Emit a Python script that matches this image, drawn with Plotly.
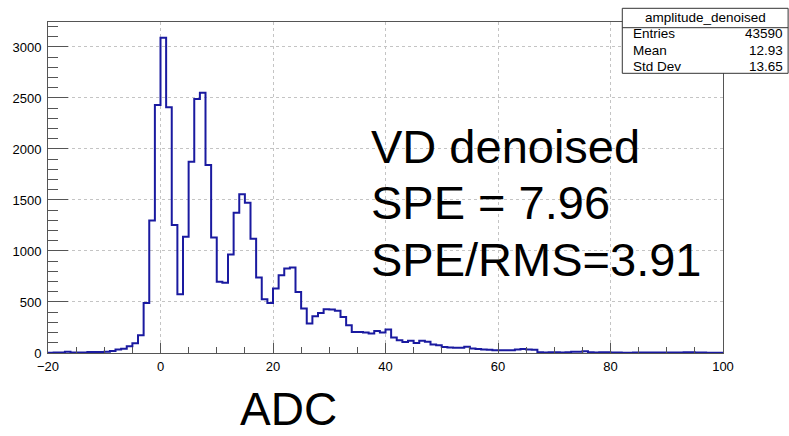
import plotly.graph_objects as go

# ---- data (bin low edges, bin width 1 ADC) ----
bin_low = list(range(-20, 100))
counts = [
    3, 5, 5, 12, 5, 4, 5, 10, 10, 10,          # -20 .. -11
    12, 20, 35, 42, 66, 95, 175, 490, 1300, 2430,  # -10 .. -1
    3090, 2410, 1254, 576, 1140, 1875, 2489, 2550, 1844, 1133,  # 0 .. 9
    698, 688, 966, 1375, 1557, 1472, 1120, 740, 527, 491,  # 10 .. 19
    632, 763, 829, 839, 599, 436, 289, 360, 393, 429,  # 20 .. 29
    426, 413, 354, 272, 207, 207, 200, 190, 216, 200,  # 30 .. 39
    230, 151, 125, 108, 120, 98, 120, 110, 83, 75,  # 40 .. 49
    59, 55, 52, 52, 62, 45, 40, 35, 33, 28,  # 50 .. 59
    26, 26, 28, 35, 38, 35, 32, 8, 6, 8,  # 60 .. 69
    7, 6, 8, 12, 12, 16, 8, 6, 8, 7,  # 70 .. 79
    6, 6, 2, 2, 6, 6, 6, 6, 6, 6,  # 80 .. 89
    5, 5, 4, 8, 8, 6, 6, 2, 2, 2,  # 90 .. 99
]
bin_width = 1

hist_name = "amplitude_denoised"
stat_labels = ["Entries", "Mean", "Std Dev"]
stat_values = ["43590", "12.93", "13.65"]
text_lines = ["VD denoised", "SPE = 7.96", "SPE/RMS=3.91"]
x_title = "ADC"

# ---- figure ----
W, H = 789, 436
L, R, T, B = 44, 66, 22, 83
pw, ph = W - L - R, H - T - B

def px(xp):
    return (xp - L) / pw

def py(yp):
    return (H - B - yp) / ph

step_x = bin_low + [bin_low[-1] + bin_width]
step_y = counts + [counts[-1]]

FONT = "Liberation Sans, Arial, Helvetica, sans-serif"
LINE_COL = "#1a1aa0"

fig = go.Figure()
fig.add_trace(go.Scatter(
    x=step_x, y=step_y, mode="lines", line_shape="hv",
    line=dict(color=LINE_COL, width=2), showlegend=False, hoverinfo="skip",
))

ymax = max(counts) * 1.05

axis_common = dict(
    showline=True, linecolor="#555", linewidth=1, mirror=True,
    ticks="inside", tickcolor="#555", tickwidth=1,
    showgrid=True, gridcolor="#c4c4c4", griddash="dot", gridwidth=1,
    zeroline=False,
    tickfont=dict(family=FONT, size=13, color="#000"),
)

fig.update_layout(
    width=W, height=H,
    margin=dict(l=L, r=R, t=T, b=B),
    paper_bgcolor="white", plot_bgcolor="white",
    font=dict(family=FONT, color="#000"),
    xaxis=dict(range=[-20, 100], tick0=0, dtick=20, ticklen=10,
               minor=dict(dtick=5, tick0=0, ticklen=6, ticks="inside",
                          tickcolor="#555", showgrid=False),
               ticklabelstandoff=1,
               **axis_common),
    yaxis=dict(range=[0, ymax], tick0=0, dtick=500, ticklen=20,
               minor=dict(dtick=100, tick0=0, ticklen=10, ticks="inside",
                          tickcolor="#555", showgrid=False),
               ticklabelstandoff=3,
               **axis_common),
)

# ---- stats box ----
bx0, bx1, by0, by1, bsep = 621.7, 789, 8.3, 73.3, 27.7
fig.add_shape(type="rect", xref="paper", yref="paper",
              x0=px(bx0), x1=px(bx1 - 0.5), y0=py(by1), y1=py(by0),
              line=dict(color="#333", width=1), fillcolor="white", layer="above")
fig.add_shape(type="line", xref="paper", yref="paper",
              x0=px(bx0), x1=px(bx1 - 0.5), y0=py(bsep), y1=py(bsep),
              line=dict(color="#333", width=1), layer="above")
fig.add_annotation(x=px((bx0 + bx1) / 2), y=py(17.5), xref="paper", yref="paper",
                   text=hist_name, showarrow=False, xanchor="center", yanchor="middle",
                   font=dict(family=FONT, size=13.5, color="#000"))
row_y = [33.5, 50.3, 66.7]
for lab, val, yy in zip(stat_labels, stat_values, row_y):
    fig.add_annotation(x=px(630), y=py(yy), xref="paper", yref="paper", text=lab,
                       showarrow=False, xanchor="left", yanchor="middle",
                       font=dict(family=FONT, size=13.5, color="#000"))
    fig.add_annotation(x=px(785), y=py(yy), xref="paper", yref="paper", text=val,
                       showarrow=False, xanchor="right", yanchor="middle",
                       font=dict(family=FONT, size=13.5, color="#000"))

# ---- big text ----
big_y = [146.2, 202.7, 259.7]
for t, yy in zip(text_lines, big_y):
    fig.add_annotation(x=px(367), y=py(yy), xref="paper", yref="paper", text=t,
                       showarrow=False, xanchor="left", yanchor="middle",
                       font=dict(family=FONT, size=47, color="#000"))

fig.add_annotation(x=px(285.5), y=py(409), xref="paper", yref="paper", text=x_title,
                   showarrow=False, xanchor="center", yanchor="middle",
                   font=dict(family=FONT, size=46, color="#000"))

fig.write_html("out.html")
